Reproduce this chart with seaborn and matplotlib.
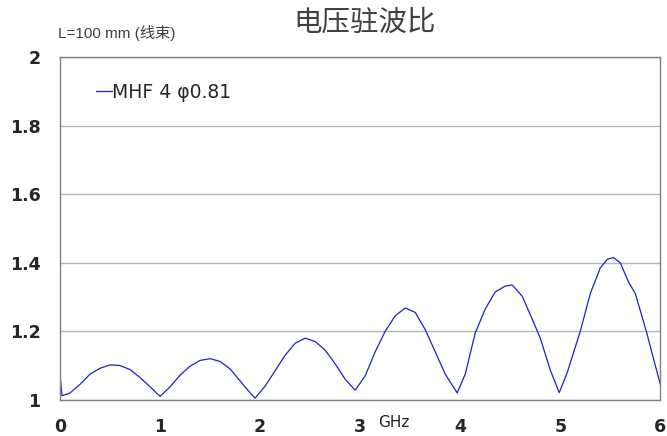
import matplotlib
matplotlib.use("Agg")
import matplotlib.pyplot as plt
import seaborn as sns
import pandas as pd

# VSWR curve (frequency in GHz)
freq = [0.00, 0.02, 0.10, 0.20, 0.30, 0.40, 0.50, 0.60, 0.70, 0.80, 0.90, 1.00,
        1.10, 1.20, 1.30, 1.40, 1.50, 1.60, 1.70, 1.80, 1.90, 1.95,
        2.05, 2.15, 2.25, 2.35, 2.45, 2.55, 2.65, 2.75, 2.85, 2.95,
        3.05, 3.15, 3.25, 3.35, 3.45, 3.55, 3.65, 3.75, 3.85, 3.97,
        4.05, 4.15, 4.25, 4.35, 4.45, 4.52, 4.62, 4.72, 4.80, 4.90, 4.99,
        5.07, 5.20, 5.30, 5.40, 5.47, 5.53, 5.60, 5.68, 5.75, 5.86, 5.95, 6.00]
vswr = [1.070, 1.012, 1.020, 1.045, 1.075, 1.092, 1.102, 1.100, 1.088, 1.065, 1.038, 1.010,
        1.038, 1.072, 1.098, 1.115, 1.120, 1.112, 1.090, 1.055, 1.020, 1.005,
        1.040, 1.085, 1.130, 1.165, 1.180, 1.170, 1.145, 1.105, 1.060, 1.028,
        1.070, 1.140, 1.200, 1.245, 1.268, 1.255, 1.205, 1.140, 1.075, 1.020,
        1.075, 1.195, 1.265, 1.315, 1.332, 1.335, 1.302, 1.235, 1.180, 1.087, 1.021,
        1.080, 1.200, 1.310, 1.385, 1.410, 1.415, 1.400, 1.345, 1.310, 1.200, 1.100, 1.045]
series_name = "MHF 4 \u03c60.81"
x_ticks = [0, 1, 2, 3, 4, 5, 6]
y_ticks = [1, 1.2, 1.4, 1.6, 1.8, 2]
y_labels = ["1", "1.2", "1.4", "1.6", "1.8", "2"]

df = pd.DataFrame({"freq": freq, "vswr": vswr, "series": series_name})

sns.set_style("white")
plt.rcParams["font.family"] = ["DejaVu Sans", "Noto Sans CJK SC"]

fig = plt.figure(figsize=(6.67, 4.36), dpi=100)
ax = fig.add_axes([0.090, 0.083, 0.900, 0.786])

sns.lineplot(data=df, x="freq", y="vswr", hue="series", palette=["#1f1fd0"],
             linewidth=0.9, ax=ax)

ax.set_xlim(0, 6)
ax.set_ylim(1, 2)
ax.set_xticks(x_ticks)
ax.set_xticklabels([str(t) for t in x_ticks], fontsize=12.5, fontweight="bold")
ax.set_yticks(y_ticks)
ax.set_yticklabels(y_labels, fontsize=12.5, fontweight="bold")
ax.tick_params(axis="both", length=0)
ax.tick_params(axis="x", pad=13)
ax.tick_params(axis="y", pad=14)
ax.set_xlabel("")
ax.set_ylabel("")
ax.yaxis.grid(True, color="#b4b4b4", linewidth=1.0)
ax.set_axisbelow(True)
for s in ax.spines.values():
    s.set_color("#808080")
    s.set_linewidth(1.0)

leg = ax.legend(loc="center left", bbox_to_anchor=(0.06, 0.898), frameon=False,
                fontsize=13.5, handlelength=0.85, handletextpad=0.0,
                borderaxespad=0, borderpad=0)

fig.text(0.547, 0.947, "电压驻波比", fontsize=20.5, ha="center", va="center",
         family=["Noto Sans CJK SC", "DejaVu Sans"], color="#404040")
fig.text(0.087, 0.924, "L=100 mm (线束)", fontsize=11, ha="left", va="center",
         family=["Liberation Sans Narrow", "Liberation Sans", "Noto Sans CJK SC"],
         color="#404040")
fig.text(0.567, 0.030, "GHz", fontsize=11, ha="left", va="center", color="#222222")

fig.savefig("out.png", dpi=100)
